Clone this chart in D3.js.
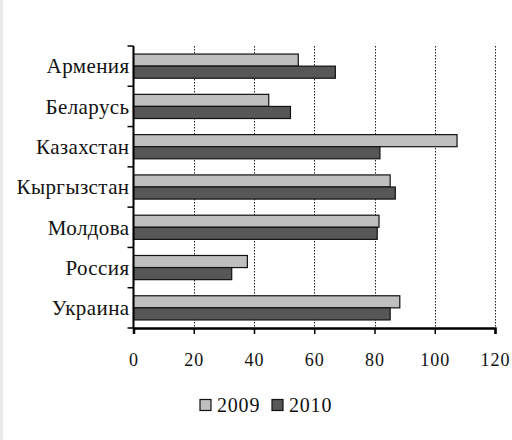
<!DOCTYPE html>
<html>
<head>
<meta charset="utf-8">
<script src="https://cdn.jsdelivr.net/npm/d3@7"></script>
<style>
  html, body { margin: 0; padding: 0; background: #fff; }
  svg { display: block; }
</style>
</head>
<body>
<svg id="chart" width="512" height="440"></svg>
<script>
// Countries, top to bottom
const countries = ["Армения", "Беларусь", "Казахстан", "Кыргызстан", "Молдова", "Россия", "Украина"];
// Series values
const years = ["2009", "2010"];
const values2009 = [54.7, 44.9, 107.4, 85.2, 81.5, 37.8, 88.4];
const values2010 = [67.0, 52.1, 81.8, 86.9, 80.9, 32.6, 85.2];
// Value axis ticks
const xTicks = [0, 20, 40, 60, 80, 100, 120];

const colors = { "2009": "#bfbfbf", "2010": "#575757" };
const FONT = "Liberation Serif";

const svg = d3.select("#chart");

// thin grey strip on the left edge
svg.append("rect").attr("x", 0).attr("y", 0).attr("width", 3).attr("height", 440).attr("fill", "#e9e9e9");

const margin = { left: 133.5, right: 17, top: 46, bottom: 112 };
const W = 512, H = 440;

const x = d3.scaleLinear().domain([0, 120]).range([margin.left, W - margin.right]);
const y = d3.scaleBand().domain(countries).range([margin.top, H - margin.bottom]).paddingInner(0.4).paddingOuter(0.2);
const ySeries = d3.scaleBand().domain(years).range([0, y.bandwidth()]);

// dotted vertical gridlines
svg.append("g").selectAll("line")
  .data(xTicks.filter(t => t > 0))
  .join("line")
  .attr("x1", d => Math.round(x(d)) + 0.5).attr("x2", d => Math.round(x(d)) + 0.5)
  .attr("y1", margin.top).attr("y2", H - margin.bottom)
  .attr("stroke", "#222").attr("stroke-width", 1).attr("stroke-dasharray", "1.5,1.5");

// bars
const rows = countries.map((c, i) => ({ c, v: { "2009": values2009[i], "2010": values2010[i] } }));
const g = svg.append("g");
rows.forEach(r => {
  years.forEach(yr => {
    g.append("rect")
      .attr("x", x(0))
      .attr("y", y(r.c) + ySeries(yr))
      .attr("width", x(r.v[yr]) - x(0))
      .attr("height", ySeries.bandwidth())
      .attr("fill", colors[yr])
      .attr("stroke", "#111")
      .attr("stroke-width", 1.2);
  });
});

// category axis: ticks between bands
const yAxisG = svg.append("g");
yAxisG.append("line")
  .attr("x1", x(0)).attr("x2", x(0))
  .attr("y1", margin.top).attr("y2", H - margin.bottom)
  .attr("stroke", "#000").attr("stroke-width", 2);
const step = (H - margin.bottom - margin.top) / countries.length;
d3.range(countries.length + 1).forEach(i => {
  const yy = margin.top + i * step;
  yAxisG.append("line").attr("x1", x(0) - 6).attr("x2", x(0))
    .attr("y1", yy).attr("y2", yy).attr("stroke", "#000").attr("stroke-width", 1.5);
});
yAxisG.selectAll("text.cat")
  .data(countries)
  .join("text")
  .attr("class", "cat")
  .attr("x", x(0) - 4)
  .attr("y", d => y(d) + y.bandwidth() / 2)
  .attr("dy", "0.35em")
  .attr("text-anchor", "end")
  .style("font-family", FONT)
  .style("font-size", "21px")
  .style("letter-spacing", "0.4px")
  .style("fill", "#111")
  .text(d => d);

// value axis
const xAxis = d3.axisBottom(x).tickValues(xTicks).tickSize(6).tickPadding(19).tickFormat(d3.format("d"));
const xAxisG = svg.append("g")
  .attr("transform", `translate(0,${H - margin.bottom})`)
  .call(xAxis);
xAxisG.select(".domain").attr("stroke", "#000").attr("stroke-width", 2.5);
xAxisG.selectAll(".tick line").attr("stroke", "#000").attr("stroke-width", 1.5);
xAxisG.selectAll(".tick text")
  .style("font-family", FONT).style("font-size", "18px").style("letter-spacing", "1px").style("fill", "#111");

// legend
const legend = svg.append("g");
const legendItems = [
  { year: "2009", x: 200 },
  { year: "2010", x: 272 }
];
legendItems.forEach(it => {
  legend.append("rect")
    .attr("x", it.x).attr("y", 399.5).attr("width", 11).attr("height", 11)
    .attr("fill", colors[it.year]).attr("stroke", "#111").attr("stroke-width", 1.2);
  legend.append("text")
    .attr("x", it.x + 17).attr("y", 405).attr("dy", "0.35em")
    .style("font-family", FONT).style("font-size", "20px").style("letter-spacing", "0.8px").style("fill", "#111")
    .text(it.year);
});
</script>
</body>
</html>
